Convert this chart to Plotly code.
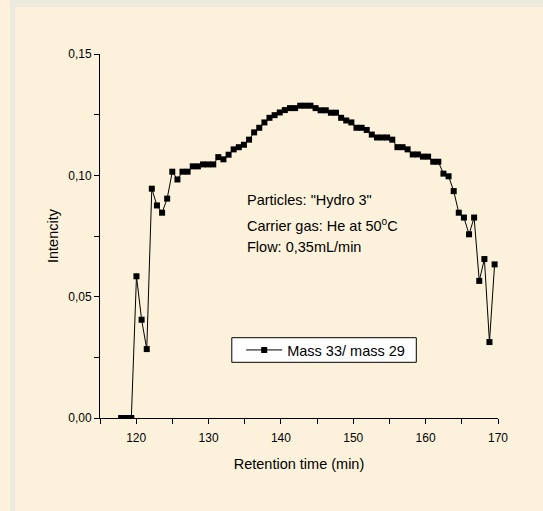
import plotly.graph_objects as go

# Retention time (min)
retention_time = [
    117.92, 118.63, 119.33, 120.04, 120.75, 121.46, 122.16, 122.87, 123.58, 124.28,
    124.99, 125.70, 126.40, 127.11, 127.82, 128.53, 129.23, 129.94, 130.65, 131.35,
    132.06, 132.77, 133.47, 134.18, 134.89, 135.60, 136.30, 137.01, 137.72, 138.42,
    139.13, 139.84, 140.54, 141.25, 141.96, 142.67, 143.37, 144.08, 144.79, 145.49,
    146.20, 146.91, 147.61, 148.32, 149.03, 149.74, 150.44, 151.15, 151.86, 152.56,
    153.27, 153.98, 154.68, 155.39, 156.10, 156.81, 157.51, 158.22, 158.93, 159.63,
    160.34, 161.05, 161.75, 162.46, 163.17, 163.88, 164.58, 165.29, 166.00, 166.70,
    167.41, 168.12, 168.82, 169.53,
]

# Intencity (Mass 33 / mass 29)
mass_ratio = [
    0.0, 0.0, 0.0, 0.0584, 0.0405, 0.0284, 0.0945, 0.0876, 0.0846, 0.0904,
    0.1015, 0.0983, 0.1015, 0.1015, 0.1037, 0.1037, 0.1045, 0.1045, 0.1045, 0.1075,
    0.1066, 0.1085, 0.1107, 0.1116, 0.1126, 0.1147, 0.1177, 0.1196, 0.1218, 0.1237,
    0.1248, 0.1259, 0.1269, 0.1277, 0.1277, 0.1287, 0.1287, 0.1287, 0.1277, 0.1268,
    0.1268, 0.1258, 0.1258, 0.1237, 0.1226, 0.1218, 0.1196, 0.1196, 0.1187, 0.1168,
    0.1156, 0.1156, 0.1156, 0.1147, 0.1116, 0.1116, 0.1107, 0.1086, 0.1086, 0.1077,
    0.1077, 0.1056, 0.1056, 0.1007, 0.0996, 0.0935, 0.0846, 0.0826, 0.0757, 0.0826,
    0.0565, 0.0655, 0.0313, 0.0633,
]

series_name = "Mass 33/ mass 29"
info_lines = ['Particles: "Hydro 3"', 'Carrier gas: He at 50<sup>o</sup>C', 'Flow: 0,35mL/min']

FONT = "Liberation Sans, Arial, sans-serif"
BEIGE = "#FCF2DB"
GRAY = "#ECEADF"

fig = go.Figure()
fig.add_trace(go.Scatter(
    x=retention_time, y=mass_ratio, mode="lines+markers", name=series_name,
    line=dict(color="black", width=1),
    marker=dict(symbol="square", size=6, color="black"),
    showlegend=True,
))

# plot area in page pixels
L, W, T, H = 100, 398, 54, 364
def px_x(p):
    return (p - L) / W
def px_y(p):
    return (T + H - p) / H

shapes = [
    # grey page frame strips
    dict(type="rect", xref="paper", yref="paper", x0=px_x(10), x1=px_x(15), y0=px_y(0), y1=px_y(511),
         fillcolor=GRAY, line=dict(width=0), layer="below"),
    dict(type="rect", xref="paper", yref="paper", x0=px_x(10), x1=px_x(543), y0=px_y(0), y1=px_y(7),
         fillcolor=GRAY, line=dict(width=0), layer="below"),
    # legend frame
    dict(type="rect", xref="paper", yref="paper", x0=px_x(231.8), x1=px_x(416.3),
         y0=px_y(362.3), y1=px_y(337.7), fillcolor="white",
         line=dict(color="black", width=1), layer="above"),
]

annotations = []
for txt, py in zip(info_lines, [198.5, 223.0, 245.0]):
    annotations.append(dict(
        text=txt, xref="paper", yref="paper", x=px_x(245.0), y=px_y(py + 1.5),
        xanchor="left", yanchor="middle", showarrow=False,
        font=dict(family=FONT, size=14.5, color="black"),
    ))

fig.update_layout(
    width=543, height=511,
    margin=dict(l=L, r=543 - L - W, t=T, b=511 - T - H),
    paper_bgcolor=BEIGE, plot_bgcolor=BEIGE,
    separators=",.",
    font=dict(family=FONT, size=12, color="black"),
    shapes=shapes,
    annotations=annotations,
    legend=dict(
        x=px_x(241.2), y=px_y(350), xanchor="left", yanchor="middle",
        bgcolor="rgba(0,0,0,0)", borderwidth=0, itemwidth=36,
        font=dict(family=FONT, size=14.5, color="black"),
    ),
    xaxis=dict(
        range=[115, 170], tick0=0, dtick=10, ticks="outside", ticklen=5, tickwidth=1,
        tickcolor="black", showline=True, linecolor="black", linewidth=1,
        showgrid=False, zeroline=False, ticklabelstandoff=4,
        minor=dict(dtick=5, tick0=0, ticks="outside", ticklen=5, tickcolor="black", showgrid=False),
        title=dict(text="Retention time (min)", font=dict(family=FONT, size=14.5), standoff=14),
        tickfont=dict(family=FONT, size=12),
    ),
    yaxis=dict(
        range=[0, 0.15], tick0=0, dtick=0.05, tickformat=".2f", ticks="outside", ticklen=5,
        tickwidth=1, tickcolor="black", showline=True, linecolor="black", linewidth=1,
        showgrid=False, zeroline=False,
        minor=dict(dtick=0.025, tick0=0, ticks="outside", ticklen=5, tickcolor="black", showgrid=False),
        title=dict(text="Intencity", font=dict(family=FONT, size=14.5), standoff=6),
        tickfont=dict(family=FONT, size=12),
    ),
)

fig.write_html(
    "out.html",
    config={"displayModeBar": False},
    post_script="document.body.style.margin='0';document.body.style.overflow='hidden';",
)
